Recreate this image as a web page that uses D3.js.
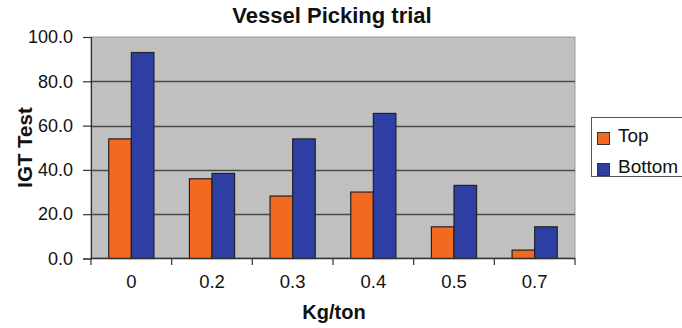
<!DOCTYPE html>
<html>
<head>
<meta charset="utf-8">
<script src="https://cdn.jsdelivr.net/npm/d3@7"></script>
<style>
  html, body { margin: 0; padding: 0; background: #fff; }
  svg { display: block; font-family: "Liberation Sans", Arial, sans-serif; }
</style>
</head>
<body>
<svg id="chart" width="682" height="328"></svg>
<script>
// Dosage categories (kg per ton) and IGT test results
const categories = ["0", "0.2", "0.3", "0.4", "0.5", "0.7"];
const topValues = [54, 36, 28.2, 30, 14.3, 3.8];
const bottomValues = [93, 38.4, 54, 65.5, 33, 14.3];
const seriesNames = ["Top", "Bottom"];
const seriesColors = ["#F26A1F", "#2E3FA3"];
const yTicks = [0, 20, 40, 60, 80, 100];

const svg = d3.select("#chart");
const margin = { left: 91, right: 107, top: 37, bottom: 70 };
const W = 682, H = 328;
const x0 = margin.left, x1 = W - margin.right;
const y0 = H - margin.bottom, y1 = margin.top;

const x = d3.scaleBand().domain(categories).range([x0, x1]).paddingInner(0.44).paddingOuter(0.22);
const xs = d3.scaleBand().domain(seriesNames).range([0, x.bandwidth()]);
const y = d3.scaleLinear().domain([0, 100]).range([y0 + 0.5, y1]);

// plot background
svg.append("rect")
  .attr("x", x0).attr("y", y1)
  .attr("width", x1 - x0).attr("height", y0 - y1)
  .attr("fill", "#C0C0C0")
  .attr("stroke", "#9a9a9a").attr("stroke-width", 1);

// horizontal gridlines
svg.append("g").selectAll("line")
  .data(yTicks.filter(t => t > 0 && t < 100))
  .join("line")
  .attr("x1", x0).attr("x2", x1)
  .attr("y1", d => Math.round(y(d)) + 0.5).attr("y2", d => Math.round(y(d)) + 0.5)
  .attr("stroke", "#4a4a4a").attr("stroke-width", 1.6);

// bars
const rows = categories.map((c, i) => ({ c, vals: [topValues[i], bottomValues[i]] }));
const groups = svg.append("g").selectAll("g")
  .data(rows).join("g")
  .attr("transform", d => `translate(${x(d.c)},0)`);
groups.selectAll("rect")
  .data(d => d.vals.map((v, j) => ({ v, s: seriesNames[j], color: seriesColors[j] })))
  .join("rect")
  .attr("x", d => xs(d.s))
  .attr("width", xs.bandwidth())
  .attr("y", d => y(d.v))
  .attr("height", d => y(0) - y(d.v))
  .attr("fill", d => d.color)
  .attr("stroke", "#222").attr("stroke-width", 1.2);

// y axis
const yAxis = d3.axisLeft(y).tickValues(yTicks).tickFormat(d3.format(".1f")).tickSize(8).tickPadding(10);
const gy = svg.append("g").attr("transform", `translate(${x0},0)`).call(yAxis);
gy.select(".domain").attr("stroke", "#333").attr("stroke-width", 1.2);
gy.selectAll(".tick line").attr("stroke", "#333").attr("stroke-width", 1.2);
gy.selectAll(".tick text").attr("font-size", 18).attr("fill", "#111")
  .attr("font-family", "Liberation Sans, Arial, sans-serif");

// x axis with ticks between categories
const xAxis = d3.axisBottom(x).tickSize(0).tickPadding(17);
const gx = svg.append("g").attr("transform", `translate(0,${y0})`).call(xAxis);
gx.select(".domain").remove();
gx.selectAll(".tick text").attr("font-size", 18.5).attr("fill", "#111")
  .attr("font-family", "Liberation Sans, Arial, sans-serif");
svg.append("line").attr("x1", x0).attr("x2", x1).attr("y1", y0 + 0.5).attr("y2", y0 + 0.5)
  .attr("stroke", "#333").attr("stroke-width", 1.4);
const step = x.step();
const bounds = categories.map(c => x(c) - x.paddingInner() * step / 2);
bounds.push(x1);
svg.append("g").selectAll("line").data(bounds).join("line")
  .attr("x1", d => d).attr("x2", d => d)
  .attr("y1", y0).attr("y2", y0 + 7)
  .attr("stroke", "#333").attr("stroke-width", 1.2);

// title and axis labels
svg.append("text").attr("x", 332).attr("y", 23)
  .attr("text-anchor", "middle").attr("font-size", 22).attr("font-weight", "bold")
  .attr("fill", "#111").text("Vessel Picking trial");
svg.append("text").attr("x", 334).attr("y", 319)
  .attr("text-anchor", "middle").attr("font-size", 20).attr("font-weight", "bold")
  .attr("fill", "#111").text("Kg/ton");
svg.append("text")
  .attr("transform", `translate(32,${(y0 + y1) / 2}) rotate(-90)`)
  .attr("text-anchor", "middle").attr("font-size", 20.5).attr("font-weight", "bold")
  .attr("fill", "#111").text("IGT Test");

// legend
const lg = svg.append("g").attr("transform", "translate(591,117)");
lg.append("rect").attr("x", 0.5).attr("y", 0.5).attr("width", 100).attr("height", 59)
  .attr("fill", "#fff").attr("stroke", "#555").attr("stroke-width", 1);
seriesNames.forEach((s, i) => {
  const yy = 21 + i * 31;
  lg.append("rect").attr("x", 6.5).attr("y", yy - 5.5).attr("width", 12).attr("height", 12)
    .attr("fill", seriesColors[i]).attr("stroke", "#333").attr("stroke-width", 1);
  lg.append("text").attr("x", 27).attr("y", yy + 4).attr("font-size", 19)
    .attr("fill", "#111").text(s);
});
</script>
</body>
</html>
